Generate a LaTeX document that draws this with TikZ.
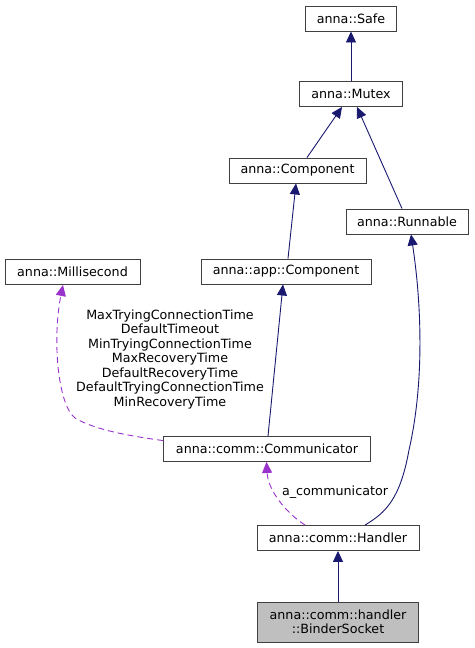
\documentclass[tikz,border=0pt]{standalone}
\usepackage{fontspec}
\setmainfont{DejaVu Sans}
\usetikzlibrary{arrows.meta,calc}
\definecolor{edgeblue}{HTML}{191970}
\definecolor{edgepurple}{HTML}{9A32CD}
\definecolor{boxline}{HTML}{404040}
\tikzset{
  cls/.style={draw=boxline, line width=0.9pt, fill=white, inner sep=0pt, minimum height=25pt,
    font=\fontsize{12.7}{14.5}\selectfont, align=center},
  inh/.style={draw=edgeblue, line width=0.9pt, -{Triangle[length=11pt,width=10pt]}},
  use/.style={draw=edgepurple, line width=0.9pt, dash pattern=on 6pt off 4pt, -{Triangle[length=11pt,width=10pt]}},
  lbl/.style={font=\fontsize{12.7}{14.5}\selectfont, align=center, inner sep=0pt, text=black}
}
\begin{document}
\begin{tikzpicture}[x=1pt,y=-1pt]
\useasboundingbox (0,0) rectangle (474,648);
\node[cls, minimum width=91pt] (safe) at (351,18.5) {anna::Safe};
\node[cls, minimum width=103pt] (mutex) at (351,94) {anna::Mutex};
\node[cls, minimum width=137pt] (comp) at (297.5,170.5) {anna::Component};
\node[cls, minimum width=122pt] (runn) at (407,221.5) {anna::Runnable};
\node[cls, minimum width=135pt] (msec) at (72.5,272) {anna::Millisecond};
\node[cls, minimum width=170pt] (appc) at (286,271.5) {anna::app::Component};
\node[cls, minimum width=207pt] (commu) at (267,449) {anna::comm::Communicator};
\node[cls, minimum width=162pt] (handler) at (338,538) {anna::comm::Handler};
\node[cls, minimum width=161pt, minimum height=40pt, fill=black!25] (binder) at (338,622) {anna::comm::handler\\::BinderSocket};

\draw[inh] (mutex.north) -- (safe.south);
\draw[inh] ($(comp.north)+(9.5,0)$) -- ($(mutex.south)+(-9,0)$);
\draw[inh] ($(runn.north)+(-5,0)$) -- ($(mutex.south)+(6,0)$);
\draw[inh] ($(appc.north)+(2,0)$) -- ($(comp.south)+(-1.5,0)$);
\draw[inh] ($(commu.north)+(1,0)$) -- ($(appc.south)+(-3,0)$);
\draw[inh] ($(handler.north)+(27,0)$) .. controls (385,513) and (400,500) .. (409,450)
  .. controls (425,380) and (421,300) .. ($(runn.south)+(4,0)$);
\draw[inh] (binder.north) -- (handler.south);

\draw[use] ($(commu.north west)+(0,4.5)$) .. controls (130,436) and (95,430) .. (75,418)
  .. controls (58,405) and (52,340) .. ($(msec.south)+(-9.5,0)$);
\node[lbl] (msl) at (170,359.3) {MaxTryingConnectionTime\\DefaultTimeout\\MinTryingConnectionTime\\MaxRecoveryTime\\DefaultRecoveryTime\\DefaultTryingConnectionTime\\MinRecoveryTime};

\draw[use] ($(handler.north)+(-33,0)$) .. controls (285,512) and (268,490) .. ($(commu.south)+(-0.5,0)$);
\node[lbl] (acl) at (335,492.5) {a\_communicator};
\end{tikzpicture}
\end{document}
